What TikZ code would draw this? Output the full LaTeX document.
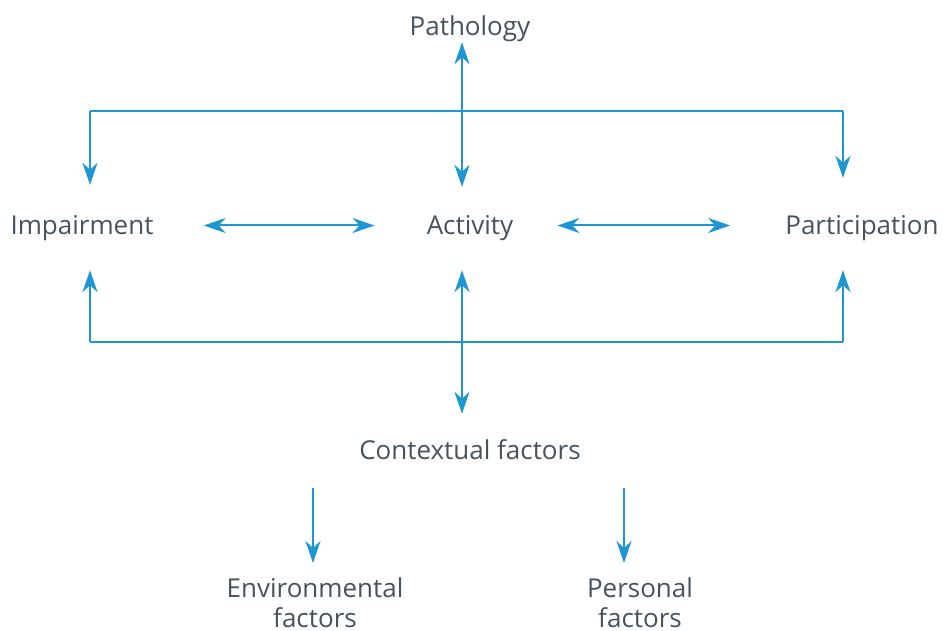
\documentclass[tikz,border=0pt]{standalone}
\usepackage{fontspec}
\setmainfont{Open Sans}
\usetikzlibrary{arrows.meta}
\definecolor{icfblue}{HTML}{1E96D4}
\definecolor{icftext}{HTML}{46535D}
\tikzset{
  label text/.style={text=icftext, inner sep=0pt, font=\fontsize{26}{30}\selectfont},
  one line/.style={label text, text height=19pt, text depth=6pt},
  link/.style={draw=icfblue, line width=2pt},
  tip/.style={arrows={-Stealth[length=22pt,width=15pt,inset=7pt]}},
  both tips/.style={arrows={Stealth[length=22pt,width=15pt,inset=7pt]-Stealth[length=22pt,width=15pt,inset=7pt]}},
}

\begin{document}
\begin{tikzpicture}[x=1pt,y=-1pt]
  \useasboundingbox (0,0) rectangle (943,631);
  \node[one line,anchor=base] (path) at (470,36) {Pathology};
  \node[one line,anchor=base] (imp) at (82,235) {Impairment};
  \node[one line,anchor=base] (act) at (470,235) {Activity};
  \node[one line,anchor=base] (part) at (862,235) {Participation};
  \node[one line,anchor=base] (ctx) at (470,459) {Contextual factors};
  \node[label text,align=center,anchor=north] (env) at (315,578) {Environmental\\factors};
  \node[label text,align=center,anchor=north] (pers) at (640,578) {Personal\\factors};
  % corners of the two brackets
  \coordinate (vt) at (462,111);
  \coordinate (vb) at (462,342);
  \coordinate (lt) at (90,111);
  \coordinate (rt) at (843,111);
  \coordinate (lb) at (90,342);
  \coordinate (rb) at (843,342);
  \draw[link,both tips,shorten >=29pt] (vt |- path.south) -- (vt |- act.north);
  \draw[link] (lt) -- (rt);
  \draw[link,tip,shorten >=31pt] (lt) -- (lt |- imp.north);
  \draw[link,tip,shorten >=38pt] (rt) -- (rt |- part.north);
  \draw[link,both tips,shorten <=50pt,shorten >=52pt] ([yshift=3pt]imp.east) -- ([yshift=3pt]act.west);
  \draw[link,both tips,shorten <=44pt,shorten >=55pt] ([yshift=3pt]act.east) -- ([yshift=3pt]part.west);
  \draw[link] (lb) -- (rb);
  \draw[link,tip,shorten >=29pt] (lb) -- (lb |- imp.south);
  \draw[link,tip,shorten >=29pt] (rb) -- (rb |- part.south);
  \draw[link,both tips,shorten <=29pt,shorten >=26pt] (vb |- act.south) -- (vb |- ctx.north);
  \draw[link,tip,shorten <=23pt,shorten >=15pt] ([xshift=-2pt]env.north |- ctx.south) -- ([xshift=-2pt]env.north);
  \draw[link,tip,shorten <=23pt,shorten >=15pt] ([xshift=-16pt]pers.north |- ctx.south) -- ([xshift=-16pt]pers.north);
\end{tikzpicture}
\end{document}
